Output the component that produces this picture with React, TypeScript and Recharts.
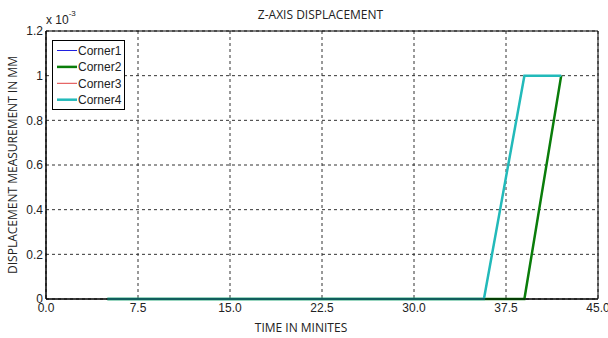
import React from 'react';
import { LineChart, Line, XAxis, YAxis, CartesianGrid, ReferenceArea } from 'recharts';

const xTicks = [0, 7.5, 15, 22.5, 30, 37.5, 45];
const yTicks = [0, 0.2, 0.4, 0.6, 0.8, 1, 1.2];

const corner1Time = [5, 39, 42];
const corner1Value = [0, 0, 1];
const corner2Time = [5, 39, 42];
const corner2Value = [0, 0, 1];
const corner3Time = [5, 35.7, 39, 42];
const corner3Value = [0, 0, 1, 1];
const corner4Time = [5, 35.7, 39, 42];
const corner4Value = [0, 0, 1, 1];

const seriesNames = ['Corner1', 'Corner2', 'Corner3', 'Corner4'];
const seriesColors = ['#2020e0', '#0a7d0a', '#e04040', '#22baba'];
const seriesWidths = [1, 2.5, 1, 2.5];

const toPoints = (t: number[], v: number[]) => t.map((x, i) => ({ t: x, v: v[i] }));

const seriesData = [
  toPoints(corner1Time, corner1Value),
  toPoints(corner2Time, corner2Value),
  toPoints(corner3Time, corner3Value),
  toPoints(corner4Time, corner4Value),
];

const drawOrder = [0, 2, 1, 3];

const tickFont = { fontFamily: '"Liberation Sans", Arial, sans-serif', fontSize: 12, fill: '#222' };
const labelFont = '"Open Sans", "Noto Sans", sans-serif';

const LegendBox = () => (
  <div
    style={{
      position: 'absolute',
      left: 52,
      top: 40,
      width: 71,
      height: 68,
      border: '1px solid #000',
      background: '#fff',
      fontFamily: '"Liberation Sans", Arial, sans-serif',
      fontSize: 12,
      color: '#222',
    }}
  >
    <svg width={71} height={68} style={{ position: 'absolute', left: 0, top: 0 }}>
      {seriesNames.map((name, i) => {
        const y = 9.5 + i * 16.4;
        return (
          <g key={name}>
            <line x1={4} x2={24} y1={y} y2={y} stroke={seriesColors[i]} strokeWidth={seriesWidths[i]} />
            <text x={25} y={y} dy="0.36em" fontFamily='"Liberation Sans", Arial, sans-serif' fontSize={12} fill="#222">
              {name}
            </text>
          </g>
        );
      })}
    </svg>
  </div>
);

export default function App() {
  return (
    <div style={{ position: 'absolute', left: 0, top: 0, width: 608, height: 338, background: '#fff' }}>
      <LineChart width={608} height={338} margin={{ top: 31, right: 10, bottom: 0, left: 0 }}>
        <CartesianGrid stroke="#333" strokeDasharray="3 3" />
        <XAxis
          type="number"
          dataKey="t"
          domain={[0, 45]}
          ticks={xTicks}
          tickFormatter={(v: number) => v.toFixed(1)}
          height={39}
          tickSize={3}
          tickMargin={1}
          tickLine={false}
          stroke="#000"
          tick={tickFont}
          interval={0}
        />
        <YAxis
          type="number"
          domain={[0, 1.2]}
          ticks={yTicks}
          width={46}
          tickSize={3}
          tickMargin={0}
          tickLine={false}
          stroke="#000"
          tick={tickFont}
          interval={0}
          tickFormatter={(v: number) => (v === 0 ? '0' : v === 1 ? '1' : v.toFixed(1))}
        />
        <ReferenceArea x1={0} x2={45} y1={0} y2={1.2} fill="none" stroke="#000" strokeWidth={1} ifOverflow="visible" />
        {drawOrder.map((i) => (
          <Line
            key={seriesNames[i]}
            data={seriesData[i]}
            dataKey="v"
            name={seriesNames[i]}
            stroke={seriesColors[i]}
            strokeWidth={seriesWidths[i]}
            dot={false}
            activeDot={false}
            isAnimationActive={false}
          />
        ))}
      </LineChart>
      <LegendBox />
      <div
        style={{
          position: 'absolute',
          left: 320.5,
          top: 15,
          transform: 'translate(-50%, -50%)',
          fontFamily: labelFont,
          fontSize: 12,
          color: '#222',
          whiteSpace: 'nowrap',
          lineHeight: 1,
        }}
      >
        Z-AXIS DISPLACEMENT
      </div>
      <div
        style={{
          position: 'absolute',
          left: 301,
          top: 328,
          transform: 'translate(-50%, -50%)',
          fontFamily: labelFont,
          fontSize: 12,
          color: '#222',
          whiteSpace: 'nowrap',
          lineHeight: 1,
        }}
      >
        TIME IN MINITES
      </div>
      <div
        style={{
          position: 'absolute',
          left: 13,
          top: 165,
          transform: 'translate(-50%, -50%) rotate(-90deg)',
          fontFamily: labelFont,
          fontSize: 12,
          color: '#222',
          whiteSpace: 'nowrap',
          lineHeight: 1,
        }}
      >
        DISPLACEMENT MEASUREMENT IN MM
      </div>
      <div
        style={{
          position: 'absolute',
          left: 46,
          top: 14,
          fontFamily: '"Liberation Sans", Arial, sans-serif',
          fontSize: 12,
          color: '#222',
          whiteSpace: 'nowrap',
          lineHeight: 1,
        }}
      >
        x 10<sup style={{ fontSize: 8, verticalAlign: 'top', position: 'relative', top: -4 }}>-3</sup>
      </div>
    </div>
  );
}
